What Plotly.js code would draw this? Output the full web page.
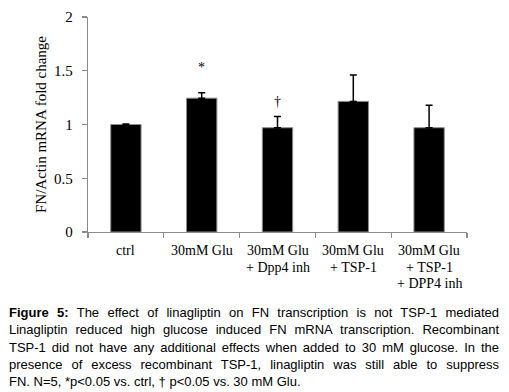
<!DOCTYPE html>
<html>
<head>
<meta charset="utf-8">
<script src="https://cdn.plot.ly/plotly-3.0.1.min.js"></script>
<style>
  html, body { margin: 0; padding: 0; background: #fff; }
  #wrap { position: relative; width: 509px; height: 392px; overflow: hidden; }
  #chart { position: absolute; left: 0; top: 0; width: 509px; height: 392px; }
  #caption { position: absolute; left: 9px; top: 304px; width: 490px;
    font-family: "Liberation Sans", Arial, sans-serif; font-size: 13px; line-height: 17.3px; color: #000; }
  #caption div { text-align: justify; text-align-last: justify; white-space: nowrap; }
  #caption div.last { text-align-last: left; }
</style>
</head>
<body>
<div id="wrap">
  <div id="chart"></div>
  <div id="caption">
    <div><b>Figure 5:</b> The effect of linagliptin on FN transcription is not TSP-1 mediated</div>
    <div>Linagliptin reduced high glucose induced FN mRNA transcription. Recombinant</div>
    <div>TSP-1 did not have any additional effects when added to 30 mM glucose. In the</div>
    <div>presence of excess recombinant TSP-1, linagliptin was still able to suppress</div>
    <div class="last">FN. N=5, *p&lt;0.05 vs. ctrl, † p&lt;0.05 vs. 30 mM Glu.</div>
  </div>
</div>
<script>
const categories = ["ctrl", "30mM Glu", "30mM Glu<br>+ Dpp4 inh", "30mM Glu<br>+ TSP-1", "30mM Glu<br>+ TSP-1<br>+ DPP4 inh"];
const foldChange = [1.0, 1.245, 0.97, 1.215, 0.97];
const errorPlus = [0.005, 0.05, 0.105, 0.245, 0.21];
const sigMarks = ["", "*", "†", "", ""];
const sigHeights = [null, 1.53, 1.21, null, null];
const yTicks = [0, 0.5, 1, 1.5, 2];
const yTickText = ["0", "0.5", "1", "1.5", "2"];

const serif = "Liberation Serif, Times New Roman, serif";

const trace = {
  type: "bar",
  x: categories,
  y: foldChange,
  width: 0.4,
  marker: { color: "#000", line: { color: "#8c8c8c", width: 1 } },
  error_y: { type: "data", array: errorPlus, arrayminus: errorPlus.map(() => 0), symmetric: false,
             color: "#000", thickness: 1.5, width: 3.5 },
  hoverinfo: "none"
};

const annotations = [];
categories.forEach((c, i) => {
  if (sigMarks[i]) {
    annotations.push({ x: c, y: sigHeights[i], xref: "x", yref: "y", text: sigMarks[i], showarrow: false,
      font: { family: serif, size: 14, color: "#000" } });
  }
  // category label lines, placed under the category through the x axis
  c.split("<br>").forEach((line, k) => {
    annotations.push({ x: c, xref: "x", y: 0, yref: "paper", yanchor: "middle", xanchor: "center",
      yshift: -18.7 - 16.3 * k, text: line, showarrow: false,
      font: { family: serif, size: 14, color: "#000" } });
  });
});

const layout = {
  width: 509, height: 392,
  margin: { l: 88, r: 42, t: 17, b: 160, pad: 0 },
  paper_bgcolor: "rgba(0,0,0,0)", plot_bgcolor: "#fff",
  showlegend: false,
  bargap: 0.6,
  font: { family: serif, color: "#000" },
  xaxis: {
    type: "category", tickmode: "array", tickvals: categories, showticklabels: false,
    showline: true, linecolor: "#8c8c8c", linewidth: 1.3,
    ticks: "outside", tickson: "boundaries", ticklen: 5, tickcolor: "#8c8c8c", tickwidth: 1.3,
    showgrid: false, zeroline: false
  },
  yaxis: {
    range: [0, 2], tickmode: "array", tickvals: yTicks, ticktext: yTickText,
    showline: true, linecolor: "#8c8c8c", linewidth: 1.3,
    ticks: "outside", ticklen: 5, tickcolor: "#8c8c8c", tickwidth: 1.3,
    ticklabelstandoff: 6,
    showgrid: false, zeroline: false,
    tickfont: { family: serif, size: 15, color: "#000" },
    title: { text: "FN/Actin mRNA fold change", font: { family: serif, size: 15, color: "#000" }, standoff: 3 }
  },
  annotations: annotations
};

Plotly.newPlot("chart", [trace], layout, { staticPlot: true, displayModeBar: false });
</script>
</body>
</html>
